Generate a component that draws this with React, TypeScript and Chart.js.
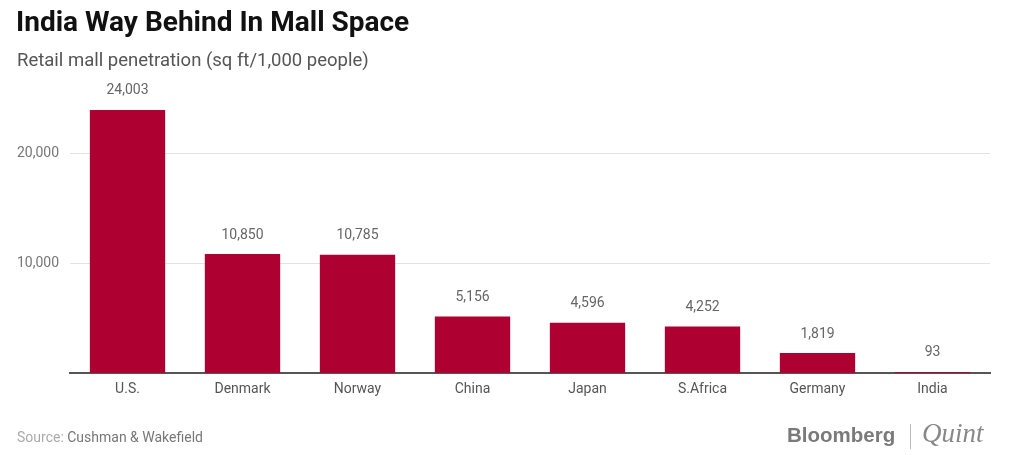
import React, { useEffect, useRef } from "react";
import { Chart, registerables } from "chart.js";

Chart.register(...registerables);

const categories = ["U.S.", "Denmark", "Norway", "China", "Japan", "S.Africa", "Germany", "India"];
const values = [24003, 10850, 10785, 5156, 4596, 4252, 1819, 93];
const yTicks = [10000, 20000];

const TITLE = "India Way Behind In Mall Space";
const SUBTITLE = "Retail mall penetration (sq ft/1,000 people)";
const BAR_COLOR = "#ae0031";

const decorPlugin = {
  id: "decor",
  afterDatasetsDraw(chart: any) {
    const ctx = chart.ctx;
    const meta = chart.getDatasetMeta(0);
    ctx.save();
    ctx.font = "14px Roboto";
    ctx.fillStyle = "#666";
    ctx.textAlign = "center";
    ctx.textBaseline = "middle";
    meta.data.forEach((bar: any, i: number) => {
      ctx.fillText(values[i].toLocaleString("en-US"), bar.x, bar.y - 19);
    });
    ctx.restore();
  },
  afterDraw(chart: any) {
    const ctx = chart.ctx;
    ctx.save();
    ctx.textAlign = "left";
    ctx.textBaseline = "alphabetic";
    ctx.fillStyle = "#111";
    ctx.font = "bold 28px Roboto";
    ctx.fillText(TITLE, 16, 31);
    ctx.fillStyle = "#555";
    ctx.font = "18.5px Roboto";
    ctx.fillText(SUBTITLE, 17, 66);

    ctx.font = "14px Roboto";
    ctx.fillStyle = "#aaa";
    const src = "Source: ";
    ctx.fillText(src, 17, 442);
    const w = ctx.measureText(src).width;
    ctx.fillStyle = "#777";
    ctx.fillText("Cushman & Wakefield", 17 + w, 442);

    // logo
    ctx.fillStyle = "#7a7a7a";
    ctx.font = "bold 20.5px 'Liberation Sans'";
    ctx.fillText("Bloomberg", 787, 442);
    ctx.strokeStyle = "#bbb";
    ctx.lineWidth = 1;
    ctx.beginPath();
    ctx.moveTo(910.5, 424);
    ctx.lineTo(910.5, 449);
    ctx.stroke();
    ctx.fillStyle = "#888";
    ctx.font = "italic 27px 'Liberation Serif'";
    ctx.fillText("Quint", 922, 442);
    ctx.restore();
  },
};

export default function App() {
  const ref = useRef<HTMLCanvasElement>(null);
  useEffect(() => {
    if (!ref.current) return;
    const chart = new Chart(ref.current, {
      type: "bar",
      data: {
        labels: categories,
        datasets: [
          {
            data: values,
            backgroundColor: BAR_COLOR,
            categoryPercentage: 1,
            barPercentage: 0.655,
          },
        ],
      },
      options: {
        responsive: false,
        animation: false,
        layout: { padding: { top: 99, right: 34, bottom: 0, left: 0 } },
        plugins: { legend: { display: false }, tooltip: { enabled: false } },
        scales: {
          x: {
            afterFit(scale: any) {
              scale.height = 82;
            },
            grid: { display: false, drawTicks: false },
            border: { display: true, color: "#555", width: 2 },
            ticks: { color: "#555", font: { family: "Roboto", size: 14 }, padding: 8 },
          },
          y: {
            min: 0,
            max: 25000,
            afterFit(scale: any) {
              scale.width = 70;
            },
            afterBuildTicks(scale: any) {
              scale.ticks = yTicks.map((v) => ({ value: v }));
            },
            grid: { color: "#e3e3e3", drawTicks: false, lineWidth: 1 },
            border: { display: false },
            ticks: {
              color: "#777",
              font: { family: "Roboto", size: 14 },
              padding: 11,
              callback: (v: any) => Number(v).toLocaleString("en-US"),
            },
          },
        },
      },
      plugins: [decorPlugin],
    });
    return () => chart.destroy();
  }, []);
  return (
    <div style={{ position: "absolute", left: 0, top: 0, width: 1024, height: 455, background: "#fff" }}>
      <canvas ref={ref} width={1024} height={455} />
    </div>
  );
}
